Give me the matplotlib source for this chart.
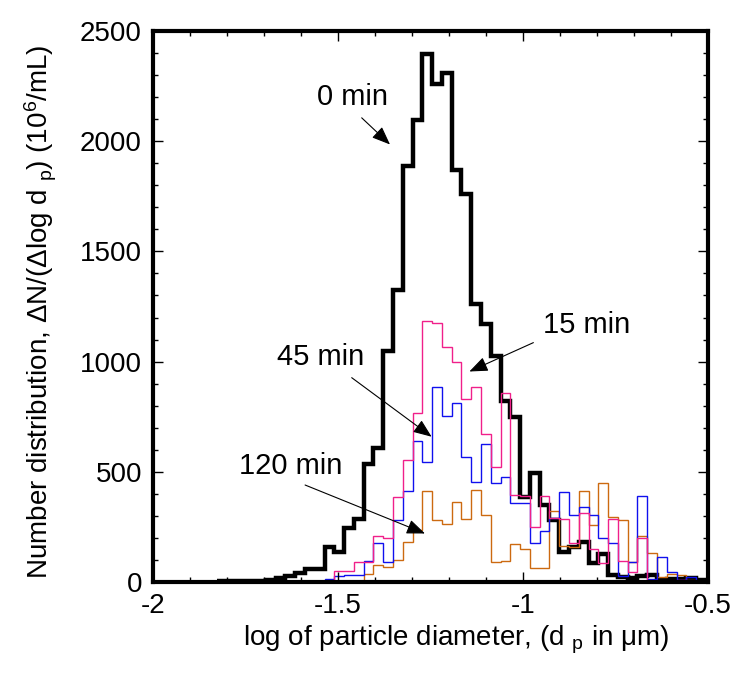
import numpy as np
import matplotlib
matplotlib.use('Agg')
from matplotlib import pyplot as plt
from matplotlib.ticker import MultipleLocator

plt.rcParams['font.family'] = ['Liberation Sans', 'DejaVu Sans']
plt.rcParams['mathtext.fontset'] = 'custom'
plt.rcParams['mathtext.rm'] = 'Liberation Sans'
plt.rcParams['mathtext.it'] = 'Liberation Sans:italic'

bin0 = -1.3251      # left edge of bin index 0
bin_w = 0.02643

# heights per bin, dN/dlog dp (10^6/mL)
black_start = -19
min0 = [4, 4, 4, 4, 5, 11, 18, 26, 41, 61, 61, 159, 134, 247, 284,
        534, 606, 1049, 1326, 1886, 2094, 2394, 2258, 2311, 1868,
        1761, 1261, 1170, 1027, 823, 747, 386, 493, 349, 280,
        136, 159, 182, 84, 126, 30, 23, 20, 25, 30, 10, 15, 12, 20, 8, 5]

pink_start = -9
min15 = [5, 5, 50, 50, 91, 91, 207, 200, 386, 553,
         768, 1182, 1174, 1064, 1000, 830, 884, 670, 523, 856,
         394, 391, 250, 391, 290, 285, 178, 314, 149, 85,
         287, 94, 45, 198, 6, 6, 5, 8, 5, 5, 4]

blue_start = -9
min45 = [5, 12, 26, 30, 30, 96, 175, 91, 283, 414,
         641, 546, 884, 753, 811, 565, 452, 626, 450, 477,
         360, 360, 175, 230, 290, 410, 302, 340, 302, 200,
         175, 28, 92, 388, 15, 113, 45, 8, 22, 6, 4]

orange_start = -6
min120 = [2, 2, 35, 79, 68, 100, 180, 235, 413, 282,
          265, 365, 284, 416, 303, 91, 93, 171, 150, 65,
          65, 323, 165, 160, 414, 259, 448, 295, 280, 92,
          207, 130, 22, 38, 30, 10, 6, 4]


def edges(start, vals):
    k = np.arange(start, start + len(vals) + 1)
    return bin0 + bin_w * k


fig = plt.figure(figsize=(7.36, 6.75), dpi=100)
ax = fig.add_axes([0.2079, 0.1378, 0.7541, 0.8163])

ax.stairs(min0, edges(black_start, min0), color='black', lw=3.2, baseline=None)
ax.stairs(min120, edges(orange_start, min120), color='#cc6a10', lw=1.0, baseline=None)
ax.stairs(min45, edges(blue_start, min45), color='#1010ee', lw=1.0, baseline=None)
ax.stairs(min15, edges(pink_start, min15), color='#f0208a', lw=1.0, baseline=None)

ax.set_xlim(-2, -0.5)
ax.set_ylim(0, 2500)
ax.xaxis.set_minor_locator(MultipleLocator(0.1))
ax.yaxis.set_major_locator(MultipleLocator(500))
ax.yaxis.set_minor_locator(MultipleLocator(100))
ax.set_xticks([-2, -1.5, -1, -0.5])
ax.set_xticklabels(['-2', '-1.5', '-1', '-0.5'])

ax.tick_params(which='both', direction='in', top=True, right=True, labelsize=20, width=1)
ax.tick_params(which='major', length=7, pad=8)
ax.tick_params(which='minor', length=3.5)
for s in ax.spines.values():
    s.set_linewidth(3)

ax.set_xlabel(r'log of particle diameter, (d $_\mathrm{p}$ in μm)', fontsize=20)
ax.set_ylabel(r'Number distribution, ΔN/(Δlog d $_\mathrm{p}$) (10$^6$/mL)', fontsize=20)
ax.xaxis.set_label_coords(0.546, -0.075)
ax.yaxis.set_label_coords(-0.17, 0.49)

arrow = dict(arrowstyle='-|>,head_length=0.45,head_width=0.18', color='black',
             lw=0.8, mutation_scale=25, shrinkA=0, shrinkB=0)
labels = [('0 min', (-1.461, 2199), (-1.436, 2106), (-1.3595, 1985)),
          ('15 min', (-0.827, 1167), (-0.972, 1086), (-1.145, 955)),
          ('45 min', (-1.546, 1021), (-1.463, 927), (-1.247, 659)),
          ('120 min', (-1.628, 526), (-1.589, 440), (-1.265, 220))]
for txt, pos, start, tip in labels:
    ax.text(pos[0], pos[1], txt, fontsize=21, ha='center', va='center')
    ax.annotate('', xy=tip, xytext=start, arrowprops=arrow)

fig.savefig('out.png', dpi=100)
